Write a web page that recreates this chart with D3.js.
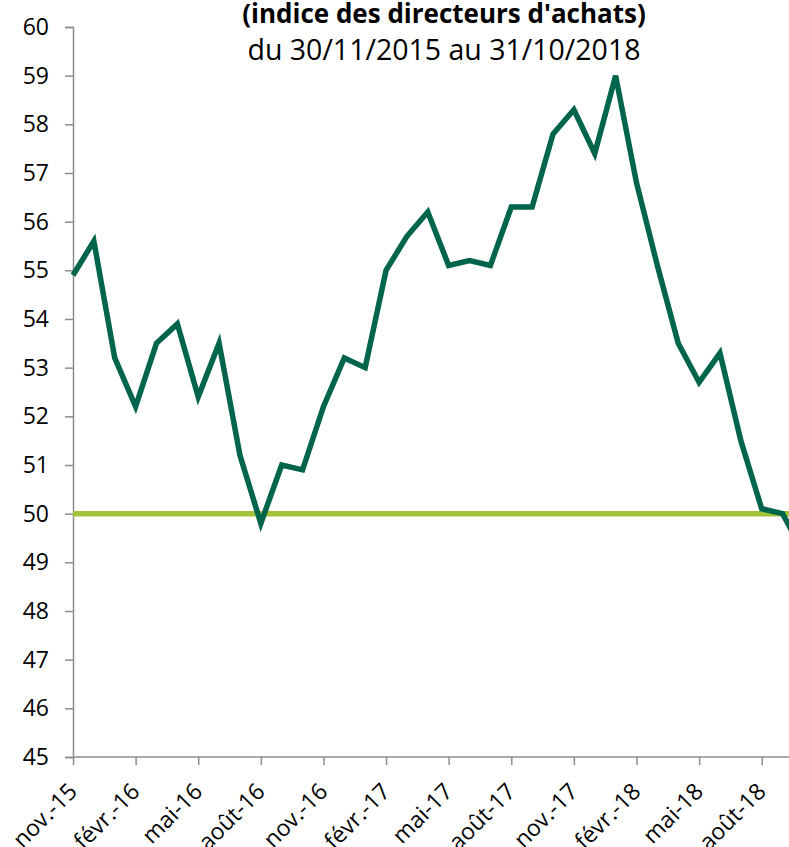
<!DOCTYPE html>
<html>
<head>
<meta charset="utf-8">
<script src="https://cdn.jsdelivr.net/npm/d3@7"></script>
<style>
  body { margin: 0; background: #ffffff; }
  svg text { font-family: "Open Sans", "DejaVu Sans", sans-serif; fill: #000000; }
</style>
</head>
<body>
<svg id="chart" width="789" height="847"></svg>
<script>
// Monthly values, nov. 2015 -> oct. 2018
const months = ["nov.-15", "déc.-15", "janv.-16", "févr.-16", "mars-16", "avr.-16",
  "mai-16", "juin-16", "juil.-16", "août-16", "sept.-16", "oct.-16",
  "nov.-16", "déc.-16", "janv.-17", "févr.-17", "mars-17", "avr.-17",
  "mai-17", "juin-17", "juil.-17", "août-17", "sept.-17", "oct.-17",
  "nov.-17", "déc.-17", "janv.-18", "févr.-18", "mars-18", "avr.-18",
  "mai-18", "juin-18", "juil.-18", "août-18", "sept.-18", "oct.-18"];
const values = [54.9, 55.6, 53.2, 52.2, 53.5, 53.9,
  52.4, 53.5, 51.2, 49.8, 51.0, 50.9,
  52.2, 53.2, 53.0, 55.0, 55.7, 56.2,
  55.1, 55.2, 55.1, 56.3, 56.3, 57.8,
  58.3, 57.4, 59.0, 56.8, 55.1, 53.5,
  52.7, 53.3, 51.5, 50.1, 50.0, 49.2];
const threshold = 50;
const yTicks = [45, 46, 47, 48, 49, 50, 51, 52, 53, 54, 55, 56, 57, 58, 59, 60];
const titleLines = ["(indice des directeurs d'achats)", "du 30/11/2015 au 31/10/2018"];

/**
 * Draws the whole chart.
 */
function drawChart() {
  const svg = d3.select("svg#chart");
  const W = +svg.attr("width");
  const margin = {left: 73, top: 27, bottom: 90};
  const step = 20.87; // one month
  const h = 757 - margin.top;

  const xScale = d3.scaleLinear()
      .domain([0, months.length - 1])
      .range([margin.left, margin.left + step * (months.length - 1)]);
  const yScale = d3.scaleLinear().domain([45, 60]).range([margin.top + h, margin.top]);

  // title (the chart is cropped at the top)
  svg.append("text")
      .attr("x", 444).attr("y", 23)
      .attr("text-anchor", "middle")
      .attr("font-size", 26).attr("font-weight", "bold")
      .text(titleLines[0]);
  svg.append("text")
      .attr("x", 444).attr("y", 60)
      .attr("text-anchor", "middle")
      .attr("font-size", 28.5)
      .text(titleLines[1]);

  // y axis
  const yAxis = svg.append("g")
      .attr("transform", "translate(" + margin.left + ",0)")
      .call(d3.axisLeft(yScale).tickValues(yTicks).tickSize(8).tickPadding(16)
          .tickFormat(d3.format("d")));
  yAxis.select(".domain").attr("stroke", "#8c8c8c").attr("stroke-width", 1.5);
  yAxis.selectAll(".tick line").attr("stroke", "#8c8c8c").attr("stroke-width", 1.5);
  yAxis.selectAll(".tick text").attr("font-size", 23).attr("fill", "#000");

  // x axis: labels every 3 months
  const tickIdx = d3.range(0, months.length, 3);
  const xAxis = svg.append("g")
      .attr("transform", "translate(0," + yScale(45) + ")")
      .call(d3.axisBottom(xScale).tickValues(tickIdx).tickSize(8)
          .tickFormat((i) => months[i]));
  xAxis.select(".domain").remove();
  xAxis.append("line")
      .attr("x1", margin.left).attr("x2", W)
      .attr("stroke", "#8c8c8c").attr("stroke-width", 1.5);
  xAxis.selectAll(".tick line").attr("stroke", "#8c8c8c").attr("stroke-width", 1.5);
  xAxis.selectAll(".tick text")
      .attr("font-size", 23).attr("fill", "#000")
      .attr("text-anchor", "end")
      .attr("dy", null)
      .attr("y", 0)
      .attr("transform", "translate(5,36) rotate(-45)");

  // 50 threshold
  svg.append("line")
      .attr("x1", margin.left).attr("x2", W)
      .attr("y1", yScale(threshold)).attr("y2", yScale(threshold))
      .attr("stroke", "#a3c139").attr("stroke-width", 5.5);

  // series
  svg.append("path")
      .datum(values)
      .attr("fill", "none")
      .attr("stroke", "#00654a")
      .attr("stroke-width", 5.5)
      .attr("stroke-linejoin", "miter")
      .attr("d", d3.line()
          .x((d, i) => xScale(i))
          .y((d) => yScale(d)));
}

drawChart();
</script>
</body>
</html>
